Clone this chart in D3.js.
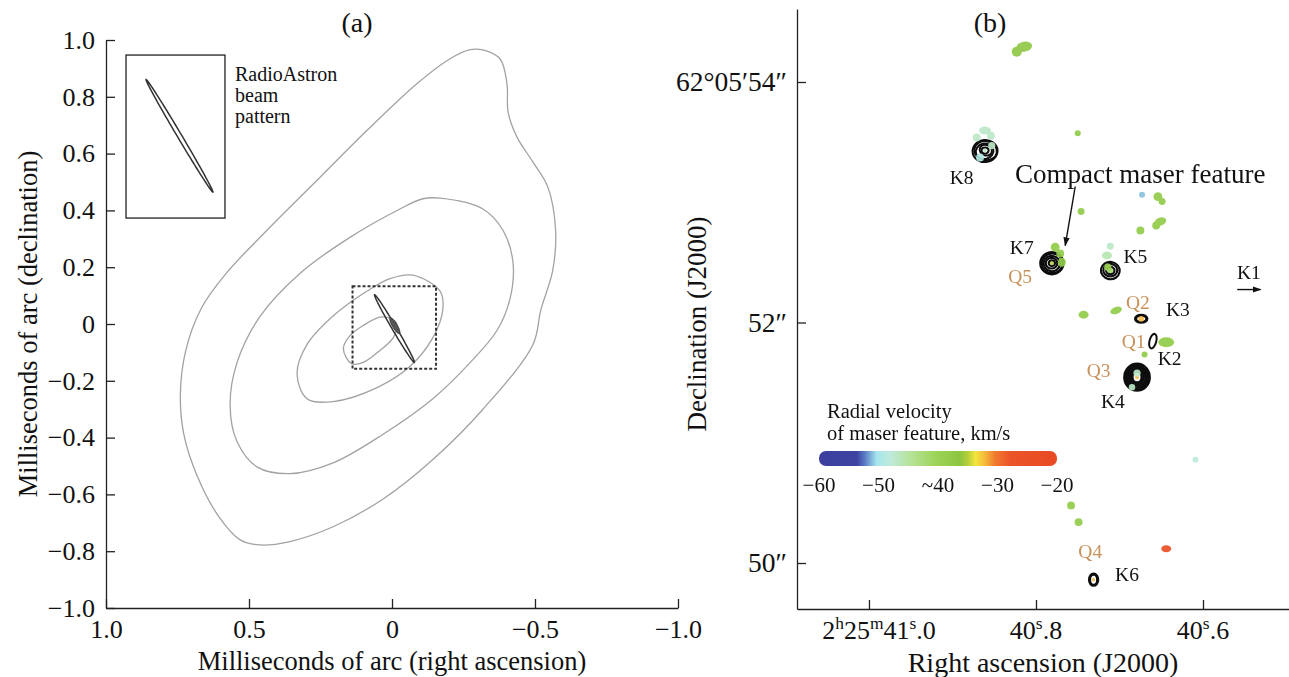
<!DOCTYPE html>
<html><head><meta charset="utf-8">
<script src="https://cdn.jsdelivr.net/npm/d3@7"></script>
<style>
body{margin:0;background:#fff;}
svg text{font-family:"Liberation Serif","Times New Roman",serif;fill:#111;}
</style>
</head><body>
<svg id="chart" width="1289" height="677"></svg>
<script>
// ---------------- DATA ----------------
// Panel (a): milliseconds of arc
const aXTicks = [1.0, 0.5, 0, -0.5, -1.0];
const aYTicks = [1.0, 0.8, 0.6, 0.4, 0.2, 0, -0.2, -0.4, -0.6, -0.8, -1.0];
// brightness contours (RA offset, Dec offset) in mas
const contourOuter = [[-0.318,0.965],[-0.378,0.933],[-0.402,0.846],[-0.406,0.746],[-0.437,0.658],[-0.493,0.570],[-0.545,0.482],[-0.572,0.330],[-0.562,0.189],[-0.520,0.048],[-0.493,-0.072],[-0.318,-0.300],[-0.143,-0.477],[0.031,-0.616],[0.206,-0.714],[0.357,-0.766],[0.462,-0.778],[0.531,-0.760],[0.605,-0.679],[0.680,-0.538],[0.728,-0.388],[0.740,-0.249],[0.722,-0.097],[0.668,0.053],[0.580,0.178],[0.437,0.330],[0.262,0.506],[0.087,0.682],[-0.087,0.846],[-0.203,0.934],[-0.273,0.966]];
const contourMid = [[-0.168,0.443],[-0.318,0.405],[-0.388,0.330],[-0.423,0.217],[-0.413,0.090],[-0.367,-0.023],[-0.273,-0.136],[-0.143,-0.263],[0.031,-0.388],[0.206,-0.489],[0.357,-0.527],[0.472,-0.503],[0.542,-0.414],[0.566,-0.287],[0.542,-0.136],[0.462,0.026],[0.322,0.178],[0.147,0.305],[-0.028,0.405],[-0.108,0.441]];
const contourInner = [[-0.073,0.172],[-0.168,0.116],[-0.178,0.053],[-0.143,-0.048],[-0.063,-0.149],[0.052,-0.224],[0.206,-0.273],[0.297,-0.263],[0.332,-0.175],[0.297,-0.072],[0.206,0.028],[0.087,0.116],[0.007,0.160]];
const contourCore = [[0.170,-0.087],[0.147,-0.041],[0.100,-0.005],[0.042,0.024],[0.001,0.018],[-0.016,0.001],[-0.005,-0.047],[0.042,-0.093],[0.100,-0.135],[0.141,-0.140]];
const zoomBox = [[0.138, 0.133], [-0.154, -0.158]];
const insetBox = [[0.930, 0.947], [0.584, 0.373]];
// RadioAstron beam: centre, semi-axes (mas), major-axis direction
const beamInset = {cx:0.743, cy:0.6625, a:0.230, b:0.0075, dir:[0.508, 0.862]};
const beamMain  = {cx:-0.0085, cy:-0.016, a:0.138, b:0.0075, dir:[0.504, 0.864]};
const beamCore  = {cx:-0.010, cy:-0.006, a:0.032, b:0.0085, dir:[0.504, 0.864]};

// Panel (b): RA seconds (2h25m + s), Dec arcsec (62°05' + ")
const bXTicks = [41.0, 40.8, 40.6];
const bXTickLabels = [[["2","h"],["25","m"],["41","s"],[".0",""]], [["40","s"],[".8",""]], [["40","s"],[".6",""]]];
const bYTicks = [54, 52, 50];
const bYTickLabels = ["62°05′54″", "52″", "50″"];

// velocity colour scale (km/s)
const velStops  = [-60, -53.6, -52.3, -50.3, -48, -44.7, -40.5, -36.3, -35, -33.7, -32, -30.4, -27.8, -20];
const velColors = ["#3c3f9e","#3e43a2","#5a7cc4","#a6e6ee","#bfeadb","#b6e39a","#9ed45a","#8cc63f","#b5cf3a","#f3e53d","#f5b63a","#f07a30","#eb5428","#e84a23"];
const cbTicks  = [-60, -50, -40, -30, -20];
const cbLabels = ["−60", "−50", "~40", "−30", "−20"];

// maser spots: RA (s), Dec ("), velocity (km/s), semi-axes (mas), angle (deg)
const maserSpots = [
  {ra:40.814, dec:54.294, v:-37, rx:66, ry:42, ang:-10},
  {ra:40.823, dec:54.252, v:-37, rx:42, ry:42, ang:0},
  {ra:40.861, dec:53.596, v:-47, rx:50, ry:33, ang:0},
  {ra:40.854, dec:53.554, v:-47, rx:33, ry:33, ang:0},
  {ra:40.871, dec:53.538, v:-47, rx:33, ry:33, ang:0},
  {ra:40.867, dec:53.372, v:-49, rx:33, ry:33, ang:0},
  {ra:40.853, dec:53.471, v:-47, rx:30, ry:30, ang:0},
  {ra:40.750, dec:53.574, v:-38, rx:25, ry:25, ang:0},
  {ra:40.746, dec:52.923, v:-38, rx:29, ry:29, ang:0},
  {ra:40.673, dec:53.062, v:-51, rx:25, ry:25, ang:0},
  {ra:40.654, dec:53.047, v:-38, rx:37, ry:37, ang:0},
  {ra:40.649, dec:53.006, v:-38, rx:29, ry:29, ang:0},
  {ra:40.651, dec:52.840, v:-38, rx:50, ry:33, ang:-20},
  {ra:40.656, dec:52.806, v:-38, rx:33, ry:33, ang:0},
  {ra:40.675, dec:52.765, v:-38, rx:33, ry:33, ang:0},
  {ra:40.777, dec:52.626, v:-38, rx:37, ry:37, ang:0},
  {ra:40.771, dec:52.574, v:-38, rx:33, ry:33, ang:0},
  {ra:40.769, dec:52.501, v:-38, rx:33, ry:37, ang:0},
  {ra:40.711, dec:52.634, v:-47, rx:29, ry:29, ang:0},
  {ra:40.715, dec:52.557, v:-46, rx:42, ry:33, ang:0},
  {ra:40.714, dec:52.460, v:-40, rx:30, ry:30, ang:0},
  {ra:40.743, dec:52.064, v:-38, rx:42, ry:33, ang:0},
  {ra:40.704, dec:52.100, v:-38, rx:50, ry:29, ang:-20},
  {ra:40.644, dec:51.836, v:-38, rx:66, ry:42, ang:0},
  {ra:40.670, dec:51.734, v:-38, rx:25, ry:25, ang:0},
  {ra:40.679, dec:51.580, v:-47, rx:30, ry:30, ang:0},
  {ra:40.685, dec:51.462, v:-47, rx:27, ry:27, ang:0},
  {ra:40.758, dec:50.479, v:-38, rx:33, ry:33, ang:0},
  {ra:40.749, dec:50.340, v:-38, rx:33, ry:33, ang:0},
  {ra:40.644, dec:50.119, v:-24, rx:42, ry:29, ang:0},
  {ra:40.609, dec:50.859, v:-48, rx:25, ry:25, ang:0}
];
// compact features (black VLBI contours): rings [rx, ry, angle, dx, dy] in mas
const features = [
  {ra:40.861, dec:53.430, v:-47, core:16, sw:2.0, rings:[[30,26,0,0,0],[52,44,20,5,-5],[74,64,-15,-5,5],[94,80,10,5,0],[104,92,-5,0,4]]},
  {ra:40.781, dec:52.493, v:-35, core:16, sw:2.2, rings:[[26,24,0,0,0],[48,44,0,-3,0],[68,64,10,0,3],[86,82,0,3,0],[96,92,0,0,0]]},
  {ra:40.711, dec:52.432, v:-40, core:22, sw:2.2, rings:[[35,30,0,0,0],[58,52,0,0,-3],[78,72,10,0,0]]},
  {ra:40.674, dec:52.031, v:-32, core:24, sw:2.0, rings:[[52,34,0,0,0],[42,26,0,0,0]]},
  {ra:40.660, dec:51.845, v:-32, core:0,  sw:2.0, rings:[[28,62,15,0,0]]},
  {ra:40.679, dec:51.545, v:-32, core:16, sw:2.8, rings:[[40,46,0,0,0],[55,62,10,0,0],[70,78,-10,3,0],[84,92,0,0,3],[96,102,15,0,0],[104,110,0,0,0]]},
  {ra:40.731, dec:49.861, v:-32, core:14, sw:2.2, rings:[[38,50,0,0,0],[30,42,0,0,0]]}
];
const featureLabels = [
  {t:"K8", ra:40.889, dec:53.205, q:false}, {t:"K7", ra:40.817, dec:52.623, q:false},
  {t:"Q5", ra:40.819, dec:52.382, q:true},  {t:"K5", ra:40.681, dec:52.549, q:false},
  {t:"Q2", ra:40.678, dec:52.166, q:true},  {t:"K3", ra:40.630, dec:52.108, q:false},
  {t:"Q1", ra:40.683, dec:51.842, q:true},  {t:"K2", ra:40.640, dec:51.701, q:false},
  {t:"Q3", ra:40.725, dec:51.601, q:true},  {t:"K4", ra:40.708, dec:51.343, q:false},
  {t:"Q4", ra:40.735, dec:50.096, q:true},  {t:"K6", ra:40.691, dec:49.905, q:false},
  {t:"K1", ra:40.545, dec:52.416, q:false}
];
const compactArrow = [[40.753, 53.131], [40.765, 52.640]];
const compactText = {t:"Compact maser feature", ra:40.825, dec:53.239};
const k1Arrow = [[40.559, 52.274], [40.531, 52.274]];

// ---------------- DRAWING ----------------
const svg = d3.select("#chart");
const defs = svg.append("defs");
defs.append("marker").attr("id","arr").attr("viewBox","0 0 10 10").attr("refX",9).attr("refY",5)
  .attr("markerWidth",9).attr("markerHeight",9).attr("markerUnits","userSpaceOnUse").attr("orient","auto")
  .append("path").attr("d","M0,1.5L10,5L0,8.5Z").attr("fill","#111");
defs.append("filter").attr("id","soft").append("feGaussianBlur").attr("stdDeviation",0.6);
defs.append("filter").attr("id","soft2").append("feGaussianBlur").attr("stdDeviation",0.35);

function styleAxis(g, fs){
  g.attr("font-family", null).attr("font-size", null);
  g.selectAll(".domain").attr("stroke","#222").attr("stroke-width",1.3);
  g.selectAll(".tick line").attr("stroke","#222").attr("stroke-width",1.3);
  g.selectAll(".tick text").attr("font-size", fs).attr("fill","#111");
}

// ===== Panel (a) =====
const xA = d3.scaleLinear().domain([1, -1]).range([106, 678]);
const yA = d3.scaleLinear().domain([-1, 1]).range([608, 40]);
const fmtA = v => v === 0 ? "0" : d3.format(".1f")(v);

const gAx = svg.append("g").attr("transform","translate(0,608)")
  .call(d3.axisBottom(xA).tickValues(aXTicks).tickFormat(fmtA).tickSize(-9).tickSizeOuter(0).tickPadding(12));
styleAxis(gAx, 26);
const gAy = svg.append("g").attr("transform","translate(106,0)")
  .call(d3.axisLeft(yA).tickValues(aYTicks).tickFormat(fmtA).tickSize(-9).tickSizeOuter(0).tickPadding(11));
styleAxis(gAy, 26);

svg.append("text").attr("x",392).attr("y",661).attr("text-anchor","middle").attr("dominant-baseline","central")
  .attr("font-size",26.5).text("Milliseconds of arc (right ascension)");
svg.append("text").attr("transform","translate(28,324) rotate(-90)").attr("text-anchor","middle")
  .attr("dominant-baseline","central").attr("font-size",26.5).text("Milliseconds of arc (declination)");
svg.append("text").attr("x",357).attr("y",22).attr("text-anchor","middle").attr("dominant-baseline","central")
  .attr("font-size",28).text("(a)");

const lineA = d3.line().x(d => xA(d[0])).y(d => yA(d[1])).curve(d3.curveCatmullRomClosed.alpha(0.5));
[contourOuter, contourMid, contourInner, contourCore].forEach(c => {
  svg.append("path").attr("d", lineA(c)).attr("fill","none").attr("stroke","#a2a2a2").attr("stroke-width",1.3);
});

function beamPts(b){
  const u = b.dir, w = [-u[1], u[0]], pts = [];
  for (let i = 0; i < 90; i++){
    const t = i / 90 * 2 * Math.PI;
    pts.push([b.cx + b.a*Math.cos(t)*u[0] + b.b*Math.sin(t)*w[0],
              b.cy + b.a*Math.cos(t)*u[1] + b.b*Math.sin(t)*w[1]]);
  }
  return pts;
}
const lineBeam = d3.line().x(d => xA(d[0])).y(d => yA(d[1])).curve(d3.curveLinearClosed);
[beamInset, beamMain].forEach(b => {
  svg.append("path").attr("d", lineBeam(beamPts(b))).attr("fill","none").attr("stroke","#333").attr("stroke-width",1.5);
});
svg.append("path").attr("d", lineBeam(beamPts(beamCore))).attr("fill","#555").attr("stroke","#333").attr("stroke-width",1);

svg.append("rect").attr("x", xA(zoomBox[0][0])).attr("y", yA(zoomBox[0][1]))
  .attr("width", xA(zoomBox[1][0]) - xA(zoomBox[0][0])).attr("height", yA(zoomBox[1][1]) - yA(zoomBox[0][1]))
  .attr("fill","none").attr("stroke","#333").attr("stroke-width",2).attr("stroke-dasharray","3,2");
svg.append("rect").attr("x", xA(insetBox[0][0])).attr("y", yA(insetBox[0][1]))
  .attr("width", xA(insetBox[1][0]) - xA(insetBox[0][0])).attr("height", yA(insetBox[1][1]) - yA(insetBox[0][1]))
  .attr("fill","none").attr("stroke","#222").attr("stroke-width",1.3);
const insetLabel = svg.append("text").attr("x",235).attr("font-size",20);
["RadioAstron","beam","pattern"].forEach((s,i) => insetLabel.append("tspan").attr("x",235).attr("y",81 + i*21).text(s));

// ===== Panel (b) =====
const xB = d3.scaleLinear().domain([41.0862, 40.4970]).range([797, 1289]);
const yB = d3.scaleLinear().domain([49.6175, 54.607]).range([609, 9]);
const pxPerMas = (yB(50) - yB(51)) / 1000;

const gBx = svg.append("g").attr("transform","translate(0,609)")
  .call(d3.axisBottom(xB).tickValues(bXTicks).tickFormat("").tickSize(-9).tickSizeOuter(0));
styleAxis(gBx, 26);
const gBy = svg.append("g").attr("transform","translate(797,0)")
  .call(d3.axisLeft(yB).tickValues(bYTicks).tickFormat((d,i) => bYTickLabels[i]).tickSize(-9).tickSizeOuter(0).tickPadding(10));
styleAxis(gBy, 27.5);

bXTicks.forEach((t,i) => {
  const txt = svg.append("text").attr("x", xB(t) + (i === 0 ? 10 : 0)).attr("y", 639)
    .attr("text-anchor","middle").attr("font-size",26);
  let pending = 0;
  bXTickLabels[i].forEach(p => {
    txt.append("tspan").attr("dy", pending).text(p[0]);
    pending = 0;
    if (p[1]) { txt.append("tspan").attr("dy",-10).attr("font-size",17.5).text(p[1]); pending = 10; }
  });
});
svg.append("text").attr("x",1043).attr("y",662).attr("text-anchor","middle").attr("dominant-baseline","central")
  .attr("font-size",28).text("Right ascension (J2000)");
svg.append("text").attr("transform","translate(697,324) rotate(-90)").attr("text-anchor","middle")
  .attr("dominant-baseline","central").attr("font-size",27).text("Declination (J2000)");
svg.append("text").attr("x",990).attr("y",22).attr("text-anchor","middle").attr("dominant-baseline","central")
  .attr("font-size",28).text("(b)");

const velColor = d3.scaleLinear().domain(velStops).range(velColors).interpolate(d3.interpolateRgb).clamp(true);

// compact features
const gF = svg.append("g").attr("filter","url(#soft2)");
features.forEach(f => {
  const cx = xB(f.ra), cy = yB(f.dec);
  f.rings.forEach(r => {
    gF.append("ellipse").attr("cx", cx + r[3]*pxPerMas).attr("cy", cy + r[4]*pxPerMas)
      .attr("rx", r[0]*pxPerMas).attr("ry", r[1]*pxPerMas)
      .attr("transform", `rotate(${r[2]},${cx},${cy})`)
      .attr("fill","none").attr("stroke","#111").attr("stroke-width",f.sw);
  });
  if (f.core > 0) gF.append("circle").attr("cx",cx).attr("cy",cy).attr("r", f.core*pxPerMas).attr("fill", velColor(f.v)).attr("opacity",0.85);
});

// maser spots (drawn over the contours)
svg.append("g").attr("filter","url(#soft)").attr("opacity",0.92).selectAll("ellipse").data(maserSpots).join("ellipse")
  .attr("cx", d => xB(d.ra)).attr("cy", d => yB(d.dec))
  .attr("rx", d => d.rx * pxPerMas).attr("ry", d => d.ry * pxPerMas)
  .attr("transform", d => `rotate(${d.ang},${xB(d.ra)},${yB(d.dec)})`)
  .attr("fill", d => velColor(d.v));

// labels
svg.append("g").selectAll("text").data(featureLabels).join("text")
  .attr("x", d => xB(d.ra)).attr("y", d => yB(d.dec)).attr("text-anchor","middle").attr("dominant-baseline","central")
  .attr("font-size",19.5).style("fill", d => d.q ? "#c8925c" : "#111").text(d => d.t);
svg.append("text").attr("x", xB(compactText.ra)).attr("y", yB(compactText.dec)).attr("dominant-baseline","central")
  .attr("font-size",27).text(compactText.t);
[compactArrow, k1Arrow].forEach(a => {
  svg.append("line").attr("x1", xB(a[0][0])).attr("y1", yB(a[0][1])).attr("x2", xB(a[1][0])).attr("y2", yB(a[1][1]))
    .attr("stroke","#111").attr("stroke-width",1.4).attr("marker-end","url(#arr)");
});

// colour bar
const cbX = d3.scaleLinear().domain([-60, -20]).range([819, 1057]);
const grad = defs.append("linearGradient").attr("id","cbgrad").attr("gradientUnits","userSpaceOnUse")
  .attr("x1", cbX(-60)).attr("x2", cbX(-20)).attr("y1",0).attr("y2",0);
velStops.forEach((v,i) => grad.append("stop").attr("offset", (v + 60) / 40).attr("stop-color", velColors[i]));
svg.append("rect").attr("x", cbX(-60)).attr("y",451).attr("width", cbX(-20) - cbX(-60)).attr("height",15)
  .attr("rx",7).attr("fill","url(#cbgrad)");
svg.append("g").selectAll("text").data(cbTicks).join("text")
  .attr("x", d => cbX(d)).attr("y",485).attr("text-anchor","middle").attr("dominant-baseline","central")
  .attr("font-size",21).text((d,i) => cbLabels[i]);
const cbTitle = svg.append("text").attr("font-size",20.5);
cbTitle.append("tspan").attr("x",827).attr("y",418).text("Radial velocity");
cbTitle.append("tspan").attr("x",827).attr("y",440).text("of maser feature, km/s");
</script>
</body></html>
